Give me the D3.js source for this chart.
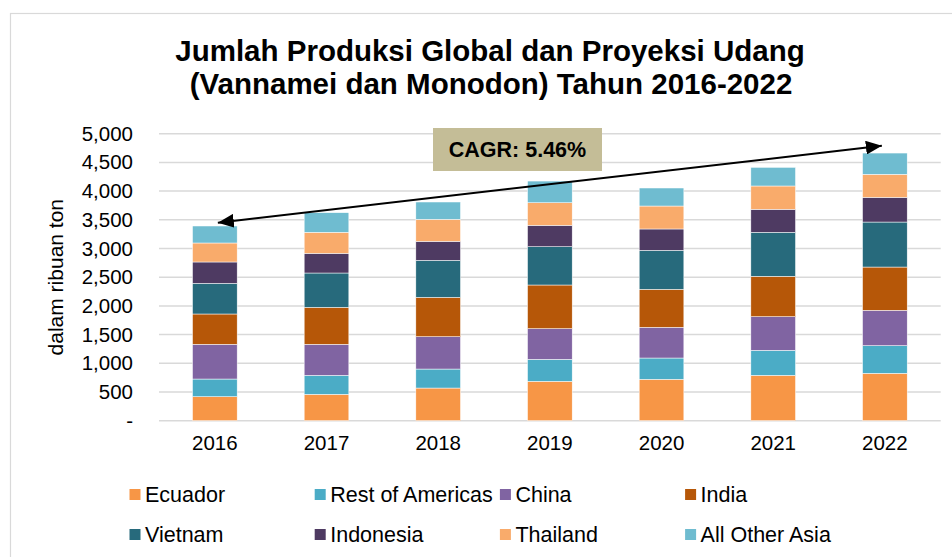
<!DOCTYPE html>
<html>
<head>
<meta charset="utf-8">
<script src="https://cdn.jsdelivr.net/npm/d3@7"></script>
<style>
  body { margin: 0; background: #fff; }
  svg { display: block; font-family: "Liberation Sans", Arial, sans-serif; }
</style>
</head>
<body>
<svg id="chart" width="952" height="557"></svg>
<script>
// data (ribuan ton)
var years = ["2016", "2017", "2018", "2019", "2020", "2021", "2022"];
var seriesNames = ["Ecuador", "Rest of Americas", "China", "India", "Vietnam", "Indonesia", "Thailand", "All Other Asia"];
var ecuador        = [418, 459, 569, 686, 721, 790, 825];
var restOfAmericas = [308, 331, 331, 383, 371, 436, 482];
var china          = [605, 541, 563, 534, 535, 586, 616];
var india          = [528, 644, 686, 761, 662, 704, 754];
var vietnam        = [534, 598, 645, 667, 679, 766, 784];
var indonesia      = [372, 343, 331, 373, 372, 401, 430];
var thailand       = [331, 366, 383, 393, 400, 406, 401];
var otherAsia      = [296, 342, 302, 378, 314, 325, 371];
var yTicks = [0, 500, 1000, 1500, 2000, 2500, 3000, 3500, 4000, 4500, 5000];
var colors = ["#F79646", "#4BACC6", "#8064A2", "#B65708", "#276A7C", "#4E3A62", "#F9AB6B", "#6FBCD0"];
var arrowFrom = { year: "2016", value: 3450 };
var arrowTo = { year: "2022", value: 4790 };
var cagrLabel = "CAGR: 5.46%";

var allSeries = [ecuador, restOfAmericas, china, india, vietnam, indonesia, thailand, otherAsia];
var rows = years.map(function(yr, i) {
  var r = { year: yr };
  seriesNames.forEach(function(n, k) { r[n] = allSeries[k][i]; });
  return r;
});

var svg = d3.select("#chart");

// outer chart border
svg.append("rect")
  .attr("x", 10.5).attr("y", 13.5)
  .attr("width", 1000).attr("height", 1000)
  .attr("fill", "none").attr("stroke", "#D9D9D9").attr("stroke-width", 1.2);

var plot = { left: 159, right: 940.7, top: 133.7, bottom: 420.7 };

var x = d3.scaleBand()
  .domain(years)
  .range([plot.left, plot.right])
  .paddingInner(0.6)
  .paddingOuter(0.3);

var y = d3.scaleLinear()
  .domain([0, 5000])
  .range([plot.bottom, plot.top]);

// title
var title = svg.append("text")
  .attr("text-anchor", "middle")
  .attr("font-size", 29.5)
  .attr("font-weight", "bold")
  .attr("fill", "#000");
title.append("tspan").attr("x", 490).attr("y", 60.5).text("Jumlah Produksi Global dan Proyeksi Udang");
title.append("tspan").attr("x", 491).attr("y", 93.5).text("(Vannamei dan Monodon) Tahun 2016-2022");

// gridlines
svg.append("g")
  .selectAll("line")
  .data(yTicks)
  .enter()
  .append("line")
  .attr("x1", plot.left).attr("x2", plot.right)
  .attr("y1", d => y(d)).attr("y2", d => y(d))
  .attr("stroke", "#D9D9D9")
  .attr("stroke-width", 1.5);

// y axis
var yAxis = svg.append("g")
  .attr("transform", "translate(137,0)")
  .call(d3.axisLeft(y).tickValues(yTicks).tickSize(0).tickPadding(4)
    .tickFormat(d => d === 0 ? "-" : d3.format(",")(d)));
yAxis.select(".domain").remove();
yAxis.selectAll("text")
  .attr("font-size", 20.5)
  .attr("font-family", "Liberation Sans, Arial, sans-serif")
  .attr("fill", "#000");

svg.append("text")
  .attr("transform", "translate(63," + ((plot.top + plot.bottom) / 2) + ") rotate(-90)")
  .attr("text-anchor", "middle")
  .attr("font-size", 21)
  .attr("fill", "#000")
  .text("dalam ribuan ton");

// x axis
var xAxis = svg.append("g")
  .attr("transform", "translate(0," + plot.bottom + ")")
  .call(d3.axisBottom(x).tickSize(0).tickPadding(15));
xAxis.select(".domain").remove();
xAxis.selectAll("text")
  .attr("font-size", 20.5)
  .attr("font-family", "Liberation Sans, Arial, sans-serif")
  .attr("fill", "#000");

// stacked bars
var stacked = d3.stack().keys(seriesNames)(rows);

svg.append("g")
  .selectAll("g")
  .data(stacked)
  .enter()
  .append("g")
  .attr("fill", (d, i) => colors[i])
  .selectAll("rect")
  .data(d => d)
  .enter()
  .append("rect")
  .attr("x", d => x(d.data.year))
  .attr("width", x.bandwidth())
  .attr("y", d => y(d[1]))
  .attr("height", d => y(d[0]) - y(d[1]))
  .attr("stroke", "#fff")
  .attr("stroke-width", 0.5);

// CAGR arrow
var defs = svg.append("defs");
defs.append("marker")
  .attr("id", "head")
  .attr("markerUnits", "userSpaceOnUse")
  .attr("viewBox", "0 0 16 14")
  .attr("refX", 16).attr("refY", 7)
  .attr("markerWidth", 16).attr("markerHeight", 14)
  .attr("orient", "auto-start-reverse")
  .append("path")
  .attr("d", "M0,0 L16,7 L0,14 Z")
  .attr("fill", "#000");

svg.append("line")
  .attr("x1", x(arrowFrom.year) + x.bandwidth() / 2 + 3)
  .attr("y1", y(arrowFrom.value))
  .attr("x2", x(arrowTo.year) + x.bandwidth() / 2 - 3)
  .attr("y2", y(arrowTo.value))
  .attr("stroke", "#000")
  .attr("stroke-width", 2)
  .attr("marker-start", "url(#head)")
  .attr("marker-end", "url(#head)");

// CAGR label box
var box = svg.append("g").attr("transform", "translate(517.5,149.5)");
box.append("rect")
  .attr("x", -84.5).attr("y", -21.5)
  .attr("width", 169).attr("height", 43)
  .attr("fill", "#C4BD97");
box.append("text")
  .attr("text-anchor", "middle")
  .attr("y", 7.8)
  .attr("font-size", 21.5)
  .attr("font-weight", "bold")
  .attr("fill", "#000")
  .text(cagrLabel);

// legend
var legend = svg.append("g")
  .selectAll("g")
  .data(seriesNames)
  .enter()
  .append("g")
  .attr("transform", (d, i) => "translate(" + (129.5 + (i % 4) * 185.2) + "," + (489 + Math.floor(i / 4) * 40) + ")");

legend.append("rect")
  .attr("width", 11).attr("height", 11)
  .attr("fill", (d, i) => colors[i]);

legend.append("text")
  .attr("x", 15.5).attr("y", 12.5)
  .attr("font-size", 21.5)
  .attr("fill", "#000")
  .text(d => d);
</script>
</body>
</html>
